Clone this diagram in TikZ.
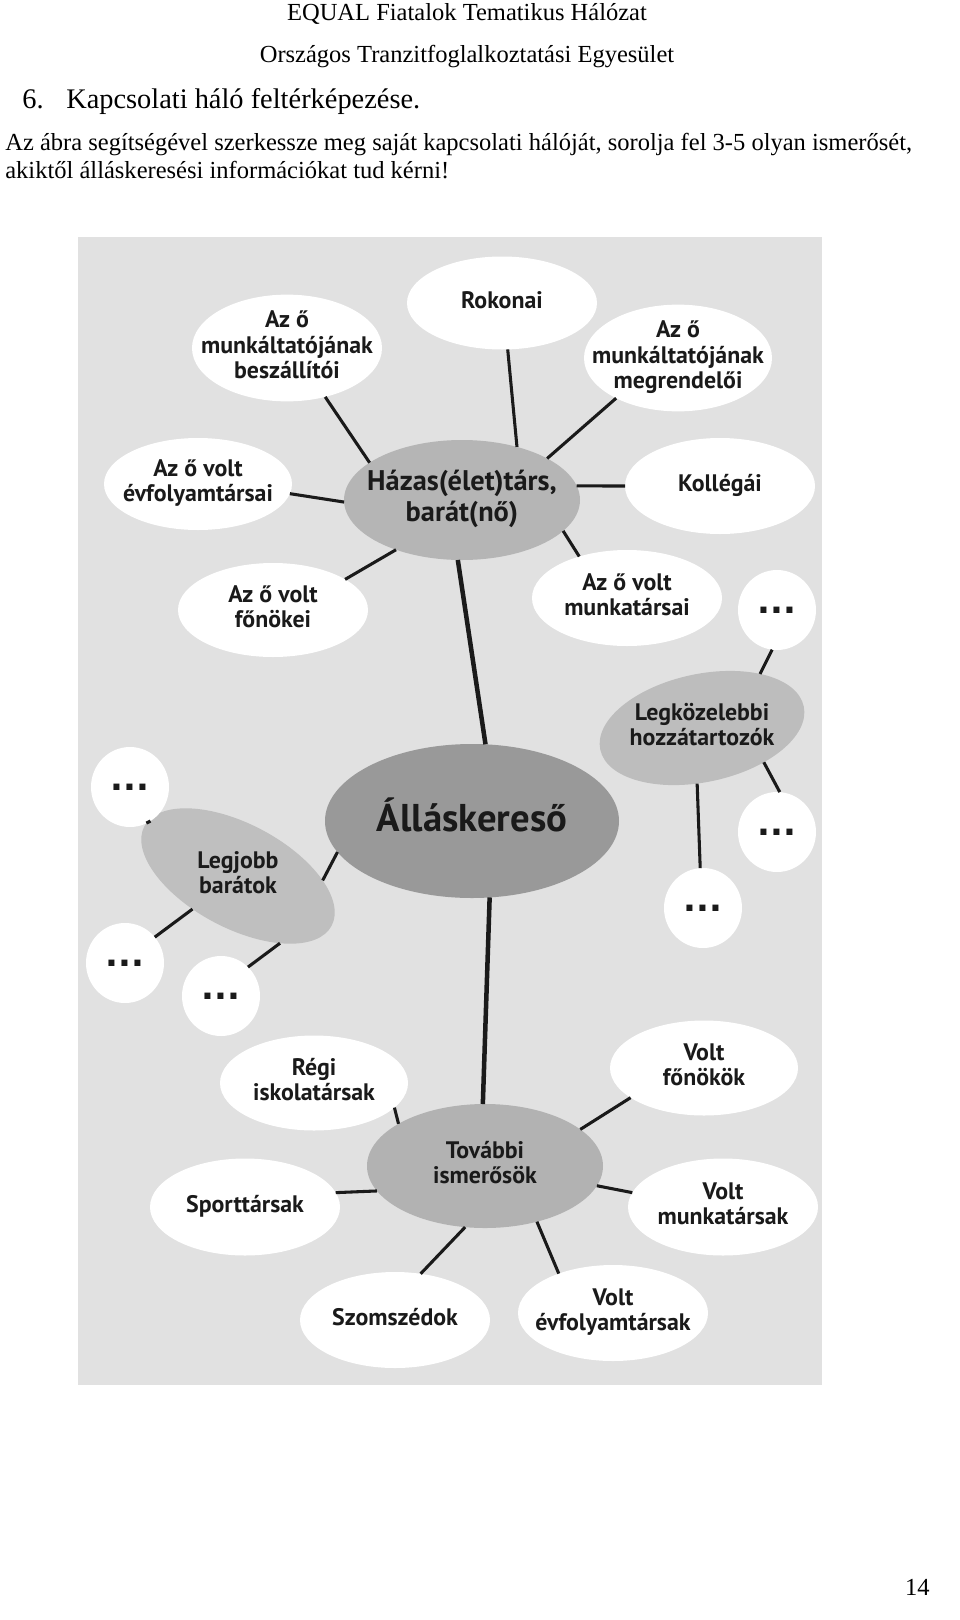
\documentclass[tikz,border=0pt]{standalone}
\usepackage{fontspec}
\setmainfont{Liberation Serif}
\newfontfamily\bubfont{PT Sans}
\newfontfamily\dotfont{DejaVu Sans}
\usetikzlibrary{shapes.geometric}
\newlength\pxu \setlength\pxu{0.62pt}
\newcommand\bl[1]{\makebox[0pt]{\begin{tabular}{@{}c@{}}#1\end{tabular}}}
\definecolor{paneback}{HTML}{E1E1E1}
\definecolor{ink}{HTML}{1A1A1A}
\tikzset{
bubble/.style={ellipse, fill=white, inner sep=0pt, outer sep=0pt, text=ink,
  minimum width=190*\pxu, minimum height=96*\pxu,
  font=\bubfont\bfseries\fontsize{14.8}{15.6}\selectfont},
hub/.style={bubble, fill=#1},
dotbubble/.style={bubble, minimum width=78*\pxu, minimum height=80*\pxu,
  font=\dotfont\bfseries\fontsize{21}{21}\selectfont},
link/.style={line width=1.9pt, ink},
trunk/.style={line width=2.8pt, ink},
plain/.style={inner sep=0pt, anchor=base west}
}
\begin{document}
\begin{tikzpicture}[x=\pxu, y=-\pxu]
  \useasboundingbox (0,0) rectangle (960,1620);
  % page text
  \node[plain, anchor=base, font=\fontsize{15.2}{18}\selectfont] (hdra) at (467,20) {EQUAL Fiatalok Tematikus Hálózat};
  \node[plain, anchor=base, font=\fontsize{15.2}{18}\selectfont] (hdrb) at (467,62) {Országos Tranzitfoglalkoztatási Egyesület};
  \node[plain, font=\fontsize{17.6}{21}\selectfont] (title) at (22,108) {\makebox[44\pxu][l]{6.}Kapcsolati háló feltérképezése.};
  \node[plain, font=\fontsize{15.2}{18}\selectfont] (taska) at (5,150) {Az ábra segítségével szerkessze meg saját kapcsolati hálóját, sorolja fel 3-5 olyan ismerősét,};
  \node[plain, font=\fontsize{15.2}{18}\selectfont] (taskb) at (5,178) {akiktől álláskeresési információkat tud kérni!};
  \node[plain, anchor=base east, font=\fontsize{15.2}{18}\selectfont] (pagenum) at (930,1595) {14};
  % pane
  \fill[paneback] (78,237) rectangle (822,1385);
  % upper cluster
  \node[hub=black!29, minimum width=236*\pxu, minimum height=120*\pxu,
    font=\bubfont\bfseries\fontsize{17.6}{18.8}\selectfont] (hazas) at (462,500) {\bl{Házas(élet)társ,\\barát(nő)}};
  \node[bubble, minimum height=93*\pxu] (rokonai) at (502,303) {\bl{Rokonai}};
  \node[bubble] (beszall) at (287,348) {\bl{Az ő\\munkáltatójának\\beszállítói}};
  \node[bubble, minimum width=188*\pxu, minimum height=92*\pxu] (megrend) at (678,358) {\bl{Az ő\\munkáltatójának\\megrendelői}};
  \node[bubble, minimum width=188*\pxu, minimum height=92*\pxu] (evfolyam) at (198,484) {\bl{Az ő volt\\évfolyamtársai}};
  \node[bubble] (kollegai) at (720,486) {\bl{Kollégái}};
  \node[bubble, minimum height=94*\pxu] (fonokei) at (273,610) {\bl{Az ő volt\\főnökei}};
  \node[bubble] (munkatars) at (627,598) {\bl{Az ő volt\\munkatársai}};
  % centre
  \node[hub=black!40, minimum width=294*\pxu, minimum height=154*\pxu,
    font=\bubfont\bfseries\fontsize{24}{26}\selectfont] (allas) at (472,821) {\bl{Álláskereső}};
  \node[hub=black!26, minimum width=208*\pxu, minimum height=108*\pxu, rotate=12] (legkoz) at (702,728) {\rotatebox{-12}{\bl{Legközelebbi\\hozzátartozók}}};
  \node[hub=black!25, minimum width=212*\pxu, minimum height=104*\pxu, rotate=-28] (legjobb) at (238,876) {\rotatebox{28}{\bl{Legjobb\\barátok}}};
  \node[dotbubble] (dota) at (777,610) {\makebox[0pt]{...}};
  \node[dotbubble] (dotb) at (777,832) {\makebox[0pt]{...}};
  \node[dotbubble] (dotc) at (703,908) {\makebox[0pt]{...}};
  \node[dotbubble] (dotd) at (130,787) {\makebox[0pt]{...}};
  \node[dotbubble] (dote) at (125,963) {\makebox[0pt]{...}};
  \node[dotbubble] (dotf) at (221,996) {\makebox[0pt]{...}};
  % lower cluster
  \node[hub=black!30, minimum width=236*\pxu, minimum height=124*\pxu] (tovabbi) at (485,1166) {\bl{További\\ismerősök}};
  \node[bubble, minimum width=188*\pxu, minimum height=95*\pxu] (iskola) at (314,1083) {\bl{Régi\\iskolatársak}};
  \node[bubble, minimum width=188*\pxu, minimum height=95*\pxu] (vfonok) at (704,1068) {\bl{Volt\\főnökök}};
  \node[bubble, minimum height=97*\pxu] (sport) at (245,1207) {\bl{Sporttársak}};
  \node[bubble, minimum height=97*\pxu] (vmunka) at (723,1207) {\bl{Volt\\munkatársak}};
  \node[bubble] (szomszed) at (395,1320) {\bl{Szomszédok}};
  \node[bubble] (vevfoly) at (613,1313) {\bl{Volt\\évfolyamtársak}};
  % links
  \draw[link] (rokonai.-83) -- (hazas.44);
  \draw[link] (beszall.-52) -- (hazas.158);
  \draw[link] (megrend.-147) -- (hazas.26);
  \draw[link] (evfolyam.-6) -- (hazas.181);
  \draw[link] (kollegai.180) -- (hazas.7);
  \draw[link] (fonokei.23) -- (hazas.-143);
  \draw[link] (munkatars.139) -- (hazas.-17);
  \draw[trunk] (hazas.-94) -- (allas.80);
  \draw[link] (dota.-97) -- (legkoz.31);
  \draw[link] (legkoz.-41) -- (dotb.86);
  \draw[link] (legkoz.-107) -- (dotc.94);
  \draw[link] (allas.193) -- (legjobb.25);
  \draw[link] (dotd.-59) -- (legjobb.178);
  \draw[link] (legjobb.-116) -- (dote.41);
  \draw[link] (legjobb.-30) -- (dotf.47);
  \draw[trunk] (allas.-77) -- (tovabbi.92);
  \draw[link] (iskola.-17) -- (tovabbi.154);
  \draw[link] (vfonok.202) -- (tovabbi.21);
  \draw[link] (sport.9) -- (tovabbi.193);
  \draw[link] (vmunka.171) -- (tovabbi.-10);
  \draw[link] (szomszed.61) -- (tovabbi.-108);
  \draw[link] (vevfoly.144) -- (tovabbi.-47);
\end{tikzpicture}
\end{document}
